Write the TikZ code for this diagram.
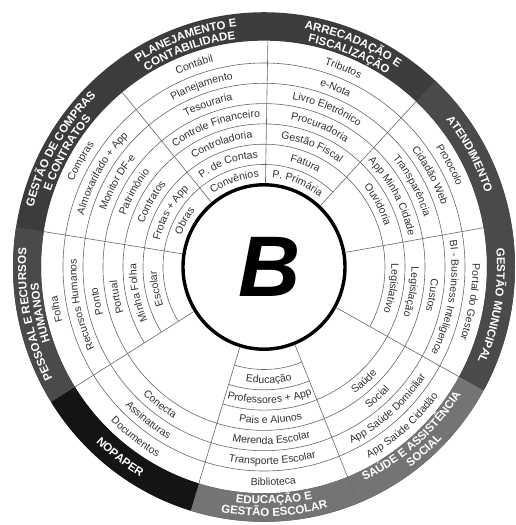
\documentclass[tikz,border=0pt]{standalone}
\usepackage{fontspec}
\setmainfont{Liberation Sans}
\usetikzlibrary{decorations.text}
\definecolor{bandA}{HTML}{3C3C3C}
\definecolor{bandB}{HTML}{4A4A4A}
\definecolor{bandC}{HTML}{747474}
\definecolor{bandD}{HTML}{141414}
\definecolor{inkgray}{HTML}{303030}
\tikzset{
  ringline/.style={draw=black!60, line width=0.6pt},
  hubline/.style={draw=black, line width=3.4pt, fill=white},
}

\begin{document}
\begin{tikzpicture}[x=1pt,y=1.015pt]
  \useasboundingbox (-264pt,-258pt) rectangle (252pt,267pt);

  \newcommand\Rout{251}
  \newcommand\Rin{223}
  \newcommand\itemfont{\fontsize{10.5}{12}\selectfont}
  \newcommand\headfont{\fontsize{11.5}{13}\selectfont\bfseries}

  %% text on an arc: from angle, to angle, radius, text
  \newcommand\arctext[4]{\path[decorate,decoration={text along path,
      text align=center,text color=inkgray,text={|\itemfont|#4}}]
    (#1:#3) arc[start angle=#1,end angle=#2,radius=#3];}
  \newcommand\headtext[4]{\path[decorate,decoration={text along path,
      text align=center,text color=white,text={|\headfont|#4}}]
    (#1:#3) arc[start angle=#1,end angle=#2,radius=#3];}
  \newcommand\bandpart[3]{\fill[#3] (#1:\Rout) arc[start angle=#1,end angle=#2,radius=\Rout]
    -- (#2:\Rin) arc[start angle=#2,end angle=#1,radius=\Rin] -- cycle;}
  \newcommand\ringarcs[3]{\foreach \r in {#3}
    \draw[ringline] (#1:\r) arc[start angle=#1,end angle=#2,radius=\r];}

  %% outer band
  \bandpart{0}{360}{bandA}
  \bandpart{10}{47}{bandB}
  \bandpart{-29}{10}{bandB}
  \bandpart{-68}{-29}{bandC}
  \bandpart{-107}{-68}{bandC}
  \bandpart{-148}{-107}{bandD}
  \bandpart{171}{212}{bandB}

  %% rings of each sector
  \ringarcs{89}{129.5}{201,181,161,141,121,101}
  \ringarcs{47}{89}{201,181,161,141,121,101}
  \ringarcs{10}{47}{201,181,161,141,121}
  \ringarcs{-29}{10}{201,181,161,141,121}
  \ringarcs{-68}{-29}{201,181,161,141}
  \ringarcs{-107}{-68}{201,181,161,141,121,101}
  \ringarcs{-148}{-107}{201,181,161}
  \ringarcs{171}{212}{201,181,161,141,121,101}
  \ringarcs{129.5}{171}{201,181,161,141,121,101}

  \foreach \a in {89,47,10,-29,-68,-107,-148,171,129.5}
    \draw[ringline] (\a:83) -- (\a:\Rin);

  %% hub
  \draw[hubline] (0,0) circle[radius=81];
  \node[font=\fontsize{86}{86}\selectfont\bfseries\itshape] (logo) at (6,0) {B};

  %% planejamento
  \headtext{129.5}{89}{238}{PLANEJAMENTO E}
  \headtext{129.5}{89}{226}{CONTABILIDADE}
  \arctext{129.5}{89}{208.5}{Contábil}
  \arctext{129.5}{89}{187.5}{Planejamento}
  \arctext{129.5}{89}{167.5}{Tesouraria}
  \arctext{129.5}{89}{147.5}{Controle Financeiro}
  \arctext{129.5}{89}{127.5}{Controladoria}
  \arctext{129.5}{89}{107.5}{P. de Contas}
  \arctext{129.5}{89}{88.5}{Convênios}

  %% arrecadacao
  \headtext{89}{47}{238}{ARRECADAÇÃO E}
  \headtext{89}{47}{226}{FISCALIZAÇÃO}
  \arctext{89}{47}{208.5}{Tributos}
  \arctext{89}{47}{187.5}{e-Nota}
  \arctext{89}{47}{167.5}{Livro Eletrônico}
  \arctext{89}{47}{147.5}{Procuradoria}
  \arctext{89}{47}{127.5}{Gestão Fiscal}
  \arctext{89}{47}{107.5}{Fatura}
  \arctext{89}{47}{88.5}{P. Primária}

  %% atendimento
  \headtext{47}{10}{233}{ATENDIMENTO}
  \arctext{47}{10}{208.5}{Protocolo}
  \arctext{47}{10}{187.5}{Cidadão Web}
  \arctext{47}{10}{167.5}{Transparência}
  \arctext{47}{10}{147.5}{App Minha Cidade}
  \arctext{47}{10}{127.5}{Ouvidoria}

  %% gestao municipal
  \headtext{10}{-29}{233}{GESTÃO MUNICIPAL}
  \arctext{10}{-29}{208.5}{Portal do Gestor}
  \arctext{10}{-29}{187.5}{BI - Business Inteligence}
  \arctext{10}{-29}{167.5}{Custos}
  \arctext{10}{-29}{147.5}{Legislação}
  \arctext{10}{-29}{127.5}{Legislativo}

  %% saude (read the other way)
  \headtext{-68}{-29}{233.5}{SAÚDE E ASSISTÊNCIA}
  \headtext{-68}{-29}{245.5}{SOCIAL}
  \arctext{-68}{-29}{215.5}{App Saúde Cidadão}
  \arctext{-68}{-29}{194.5}{App Saúde Domiciliar}
  \arctext{-68}{-29}{174.5}{Social}
  \arctext{-68}{-29}{154.5}{Saúde}

  %% educacao
  \headtext{-107}{-68}{233.5}{EDUCAÇÃO E}
  \headtext{-107}{-68}{245.5}{GESTÃO ESCOLAR}
  \arctext{-107}{-68}{215.5}{Biblioteca}
  \arctext{-107}{-68}{194.5}{Transporte Escolar}
  \arctext{-107}{-68}{174.5}{Merenda Escolar}
  \arctext{-107}{-68}{154.5}{Pais e Alunos}
  \arctext{-107}{-68}{134.5}{Professores + App}
  \arctext{-107}{-68}{114.5}{Educação}

  %% nopaper
  \headtext{-148}{-107}{241}{NOPAPER}
  \arctext{-148}{-107}{215.5}{Documentos}
  \arctext{-148}{-107}{194.5}{Assinaturas}
  \arctext{-148}{-107}{174.5}{Conecta}

  %% pessoal
  \headtext{212}{171}{238}{PESSOAL E RECURSOS}
  \headtext{212}{171}{226}{HUMANOS}
  \arctext{212}{171}{208.5}{Folha}
  \arctext{212}{171}{187.5}{Recursos Humanos}
  \arctext{212}{171}{167.5}{Ponto}
  \arctext{212}{171}{147.5}{Portual}
  \arctext{212}{171}{127.5}{Minha Folha}
  \arctext{212}{171}{107.5}{Escolar}

  %% compras
  \headtext{171}{129.5}{238}{GESTÃO DE COMPRAS}
  \headtext{171}{129.5}{226}{E CONTRATOS}
  \arctext{171}{129.5}{208.5}{Compras}
  \arctext{171}{129.5}{187.5}{Almoxarifado + App}
  \arctext{171}{129.5}{167.5}{Monitor DF-e}
  \arctext{171}{129.5}{147.5}{Patrimônio}
  \arctext{171}{129.5}{127.5}{Contratos}
  \arctext{171}{129.5}{107.5}{Frotas + App}
  \arctext{171}{129.5}{88.5}{Obras}

\end{tikzpicture}
\end{document}
